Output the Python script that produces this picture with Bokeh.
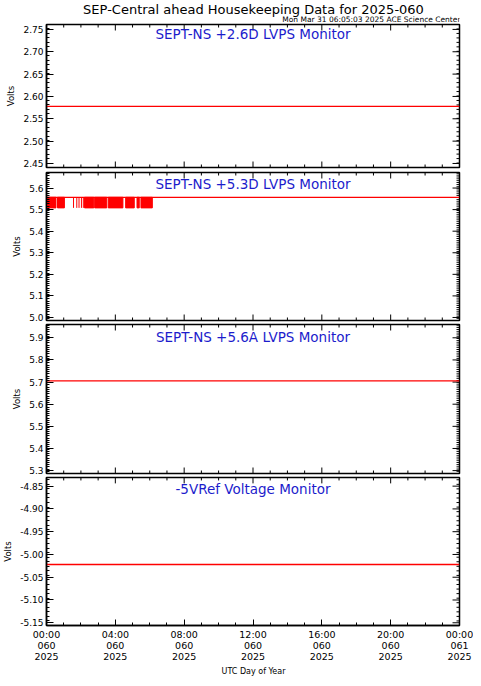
import numpy as np
from bokeh.plotting import figure
from bokeh.layouts import column
from bokeh.models import FixedTicker, Label, ColumnDataSource, Range1d
from bokeh.embed import file_html
from bokeh.resources import INLINE

# ---------------- data ----------------
hours = [0.0, 24.0]
lvps26_volts = [2.578, 2.578]
lvps53_volts = [5.557, 5.557]
lvps56_volts = [5.705, 5.705]
ref5v_volts = [-5.022, -5.022]

# +5.3D noisy section (toggling between two levels)
lvps53_low = 5.508
lvps53_high = 5.557
lvps53_block_start = [0.06, 0.64, 2.21, 2.80, 3.59, 4.60, 5.26, 5.49]
lvps53_block_end = [0.55, 1.04, 2.75, 3.50, 4.44, 5.10, 5.39, 6.15]
lvps53_spike_times = [1.57, 1.76, 1.89, 2.03, 2.14]

x_tick_hours = [0, 4, 8, 12, 16, 20, 24]
x_minor_hours = list(range(0, 25))
x_tick_labels = ["00:00\n060\n2025", "04:00\n060\n2025", "08:00\n060\n2025",
                 "12:00\n060\n2025", "16:00\n060\n2025", "20:00\n060\n2025",
                 "00:00\n061\n2025"]

p1_ticks = [2.45, 2.50, 2.55, 2.60, 2.65, 2.70, 2.75]
p1_labels = ["2.45", "2.50", "2.55", "2.60", "2.65", "2.70", "2.75"]
p2_ticks = [5.0, 5.1, 5.2, 5.3, 5.4, 5.5, 5.6]
p2_labels = ["5.0", "5.1", "5.2", "5.3", "5.4", "5.5", "5.6"]
p3_ticks = [5.3, 5.4, 5.5, 5.6, 5.7, 5.8, 5.9]
p3_labels = ["5.3", "5.4", "5.5", "5.6", "5.7", "5.8", "5.9"]
p4_ticks = [-5.15, -5.10, -5.05, -5.00, -4.95, -4.90, -4.85]
p4_labels = ["-5.15", "-5.10", "-5.05", "-5.00", "-4.95", "-4.90", "-4.85"]

panel_titles = ["SEPT-NS +2.6D LVPS Monitor", "SEPT-NS +5.3D LVPS Monitor",
                "SEPT-NS +5.6A LVPS Monitor", "-5VRef Voltage Monitor"]
main_title = "SEP-Central ahead Housekeeping Data for 2025-060"
sub_title = "Mon Mar 31 06:05:03 2025 ACE Science Center"
y_title = "Volts"
x_title = "UTC Day of Year"

# ---------------- styling ----------------
FONT = "DejaVu Sans"
RED = "#ff0000"
BLUE = "#1c1ccc"
W = 473
LEFT = 45
RIGHT = 14
FRAME_W = W - LEFT - RIGHT


def plain_fig(height):
    p = figure(width=W, height=height, x_range=Range1d(0, 1), y_range=Range1d(0, 1),
               output_backend="svg", toolbar_location=None,
               min_border_left=LEFT, min_border_right=RIGHT, min_border_top=0,
               min_border_bottom=0, x_axis_location=None, y_axis_location=None)
    p.outline_line_color = None
    p.grid.visible = False
    return p


def tick_marks(p, yr, fh, yticks, yminor, bottom_ticks):
    x_per_px = 24.0 / FRAME_W
    y_per_px = (yr[1] - yr[0]) / fh
    segs = dict(x0=[], x1=[], y0=[], y1=[])

    def add(x0, x1, y0, y1):
        segs["x0"].append(x0); segs["x1"].append(x1)
        segs["y0"].append(y0); segs["y1"].append(y1)

    for h in x_minor_hours:
        ln = 6 if h in x_tick_hours else 3
        add(h, h, yr[1], yr[1] - ln * y_per_px)
        if bottom_ticks:
            add(h, h, yr[0], yr[0] + ln * y_per_px)
    for v in yminor:
        if yr[0] <= v <= yr[1]:
            add(24, 24 - 3 * x_per_px, v, v)
    for v in yticks:
        add(24, 24 - 7 * x_per_px, v, v)
    p.segment(x0="x0", x1="x1", y0="y0", y1="y1", source=ColumnDataSource(segs),
              color="black", line_width=1)


def make_panel(height, top, bottom, yr, yticks, ylabels, ystep, title, title_off,
               xlabels=False):
    p = figure(width=W, height=height, x_range=Range1d(0, 24), y_range=Range1d(*yr),
               output_backend="svg", toolbar_location=None,
               min_border_left=LEFT, min_border_right=RIGHT,
               min_border_top=top, min_border_bottom=bottom,
               x_axis_location="below" if xlabels else None, y_axis_location="left")
    p.outline_line_color = "black"
    p.outline_line_width = 1.5
    p.background_fill_color = "white"
    p.border_fill_color = "white"
    p.grid.visible = False

    fh = height - top - bottom
    yminor = [round(float(v), 4) for v in np.arange(yr[0] - ystep, yr[1] + ystep, ystep)]
    yo = {t: l for t, l in zip(yticks, ylabels)}

    ly = p.yaxis[0]
    ly.ticker = FixedTicker(ticks=list(yticks), minor_ticks=yminor)
    ly.major_label_overrides = yo
    ly.major_tick_in = 7
    ly.major_tick_out = 0
    ly.minor_tick_in = 3
    ly.minor_tick_out = 0
    ly.axis_line_color = "black"
    ly.axis_line_width = 1.5
    ly.major_tick_line_color = "black"
    ly.minor_tick_line_color = "black"
    ly.major_label_text_font = FONT
    ly.major_label_text_font_size = "9px"
    ly.major_label_text_color = "black"
    ly.major_label_standoff = 3
    ly.axis_label = y_title
    ly.axis_label_text_font = FONT
    ly.axis_label_text_font_size = "8.5px"
    ly.axis_label_text_font_style = "normal"
    ly.axis_label_text_color = "black"
    ly.axis_label_standoff = 4

    if xlabels:
        bx = p.xaxis[0]
        bx.ticker = FixedTicker(ticks=x_tick_hours, minor_ticks=x_minor_hours)
        bx.major_label_overrides = {t: l for t, l in zip(x_tick_hours, x_tick_labels)}
        bx.major_tick_in = 6
        bx.major_tick_out = 0
        bx.minor_tick_in = 3
        bx.minor_tick_out = 0
        bx.axis_line_color = "black"
        bx.axis_line_width = 1.5
        bx.major_tick_line_color = "black"
        bx.minor_tick_line_color = "black"
        bx.major_label_text_font = FONT
        bx.major_label_text_font_size = "9.5px"
        bx.major_label_text_color = "black"
        bx.major_label_standoff = 3
        bx.major_label_text_line_height = 1.0

    tick_marks(p, yr, fh, yticks, yminor, bottom_ticks=not xlabels)

    p.add_layout(Label(x=12, y=fh - title_off, y_units="screen", text=title,
                       text_font=FONT, text_font_size="13.5px", text_color=BLUE,
                       text_align="center", text_baseline="middle"))
    return p, fh


# header with main title and time stamp (frame spans x 45..459)
header = plain_fig(23)
header.add_layout(Label(x=FRAME_W / 2, y=14, x_units="screen", y_units="screen",
                        text=main_title, text_font=FONT, text_font_size="13px",
                        text_color="black", text_align="center", text_baseline="middle"))
header.add_layout(Label(x=FRAME_W, y=4, x_units="screen", y_units="screen",
                        text=sub_title, text_font=FONT, text_font_size="7.5px",
                        text_color="black", text_align="right", text_baseline="middle"))

p1, fh1 = make_panel(146, 1, 2, (2.441, 2.761), p1_ticks, p1_labels, 0.01, panel_titles[0], 9)
p1.line(hours, lvps26_volts, color=RED, line_width=1.3)

p2, fh2 = make_panel(154, 3, 3, (4.986, 5.672), p2_ticks, p2_labels, 0.01, panel_titles[1], 11)
blocks = ColumnDataSource(dict(left=lvps53_block_start, right=lvps53_block_end,
                               bottom=[lvps53_low] * len(lvps53_block_start),
                               top=[lvps53_high] * len(lvps53_block_start)))
p2.quad(left="left", right="right", bottom="bottom", top="top", source=blocks,
        fill_color=RED, line_color=RED, line_width=1)
spikes = ColumnDataSource(dict(x=lvps53_spike_times,
                               y0=[lvps53_low] * len(lvps53_spike_times),
                               y1=[lvps53_high] * len(lvps53_spike_times)))
p2.segment(x0="x", x1="x", y0="y0", y1="y1", source=spikes, color=RED, line_width=1)
p2.line(hours, lvps53_volts, color=RED, line_width=1.3)

p3, fh3 = make_panel(152, 1, 2, (5.287, 5.96), p3_ticks, p3_labels, 0.01, panel_titles[2], 12)
p3.line(hours, lvps56_volts, color=RED, line_width=1.3)

p4, fh4 = make_panel(189, 2, 36, (-5.156, -4.831), p4_ticks, p4_labels, 0.01, panel_titles[3], 14,
                     xlabels=True)
p4.line(hours, ref5v_volts, color=RED, line_width=1.3)

footer = plain_fig(14)
footer.add_layout(Label(x=FRAME_W / 2, y=7, x_units="screen", y_units="screen",
                        text=x_title, text_font=FONT, text_font_size="8px",
                        text_color="black", text_align="center", text_baseline="middle"))

layout = column(header, p1, p2, p3, p4, footer, spacing=0)

with open("out.html", "w") as f:
    f.write(file_html(layout, INLINE))
